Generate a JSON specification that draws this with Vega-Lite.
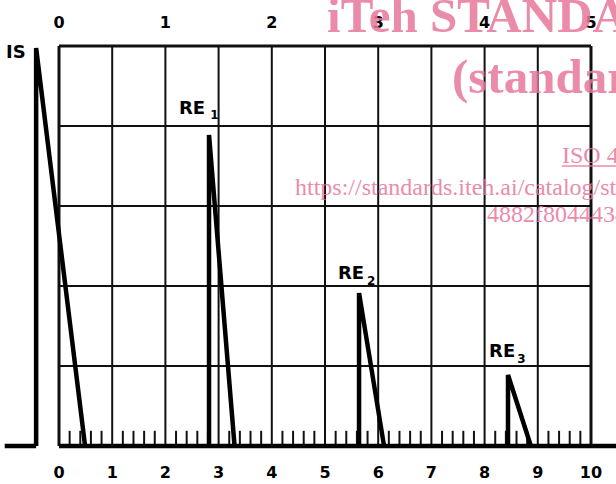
{
  "$schema": "https://vega.github.io/schema/vega-lite/v6.json",
  "width": 616,
  "height": 484,
  "padding": 0,
  "autosize": {"type": "none"},
  "background": "white",
  "config": {"view": {"stroke": null}},
  "datasets": {
    "vgrid": [
      {"x": 1, "y0": 0, "y1": 100}, {"x": 2, "y0": 0, "y1": 100}, {"x": 3, "y0": 0, "y1": 100},
      {"x": 4, "y0": 0, "y1": 100}, {"x": 5, "y0": 0, "y1": 100}, {"x": 6, "y0": 0, "y1": 100},
      {"x": 7, "y0": 0, "y1": 100}, {"x": 8, "y0": 0, "y1": 100}, {"x": 9, "y0": 0, "y1": 100}
    ],
    "vborder": [{"x": 0, "y0": 0, "y1": 100}, {"x": 10, "y0": 0, "y1": 100}],
    "hgrid": [
      {"y": 20, "x0": 0, "x1": 10}, {"y": 40, "x0": 0, "x1": 10},
      {"y": 60, "x0": 0, "x1": 10}, {"y": 80, "x0": 0, "x1": 10}
    ],
    "hborder": [{"y": 100, "x0": 0, "x1": 10}],
    "ticks": [
      {"x": 0.2}, {"x": 0.4}, {"x": 0.6}, {"x": 0.8},
      {"x": 1.2}, {"x": 1.4}, {"x": 1.6}, {"x": 1.8},
      {"x": 2.2}, {"x": 2.4}, {"x": 2.6}, {"x": 2.8},
      {"x": 3.2}, {"x": 3.4}, {"x": 3.6}, {"x": 3.8},
      {"x": 4.2}, {"x": 4.4}, {"x": 4.6}, {"x": 4.8},
      {"x": 5.2}, {"x": 5.4}, {"x": 5.6}, {"x": 5.8},
      {"x": 6.2}, {"x": 6.4}, {"x": 6.6}, {"x": 6.8},
      {"x": 7.2}, {"x": 7.4}, {"x": 7.6}, {"x": 7.8},
      {"x": 8.2}, {"x": 8.4}, {"x": 8.6}, {"x": 8.8},
      {"x": 9.2}, {"x": 9.4}, {"x": 9.6}, {"x": 9.8}
    ],
    "trace": [
      {"pulse": "base0", "order": 1, "x": -1.02, "y": 0},
      {"pulse": "base0", "order": 2, "x": -0.43, "y": 0},
      {"pulse": "base", "order": 1, "x": 0, "y": 0},
      {"pulse": "base", "order": 2, "x": 10.6, "y": 0},
      {"pulse": "IS", "order": 1, "x": -0.43, "y": 0},
      {"pulse": "IS", "order": 2, "x": -0.43, "y": 99.5},
      {"pulse": "IS", "order": 3, "x": 0.49, "y": 0},
      {"pulse": "RE1", "order": 1, "x": 2.82, "y": 0},
      {"pulse": "RE1", "order": 2, "x": 2.82, "y": 77.75},
      {"pulse": "RE1", "order": 3, "x": 3.3, "y": 0},
      {"pulse": "RE2", "order": 1, "x": 5.64, "y": 0},
      {"pulse": "RE2", "order": 2, "x": 5.64, "y": 38.25},
      {"pulse": "RE2", "order": 3, "x": 6.11, "y": 0},
      {"pulse": "RE3", "order": 1, "x": 8.44, "y": 0},
      {"pulse": "RE3", "order": 2, "x": 8.44, "y": 17.75},
      {"pulse": "RE3", "order": 3, "x": 8.87, "y": 0}
    ],
    "toplabels": [
      {"x": 0, "y": 105.75, "t": "0"}, {"x": 2, "y": 105.75, "t": "1"},
      {"x": 4, "y": 105.75, "t": "2"}, {"x": 6, "y": 105.75, "t": "3"},
      {"x": 8, "y": 105.75, "t": "4"}, {"x": 10, "y": 105.75, "t": "5"}
    ],
    "bottomlabels": [
      {"x": 0, "y": -6.75, "t": "0"}, {"x": 1, "y": -6.75, "t": "1"},
      {"x": 2, "y": -6.75, "t": "2"}, {"x": 3, "y": -6.75, "t": "3"},
      {"x": 4, "y": -6.75, "t": "4"}, {"x": 5, "y": -6.75, "t": "5"},
      {"x": 6, "y": -6.75, "t": "6"}, {"x": 7, "y": -6.75, "t": "7"},
      {"x": 8, "y": -6.75, "t": "8"}, {"x": 9, "y": -6.75, "t": "9"},
      {"x": 10, "y": -6.75, "t": "10"}
    ],
    "echolabels": [
      {"x": -0.81, "y": 98.25, "t": "IS"},
      {"x": 2.5, "y": 84.25, "t": "RE"},
      {"x": 5.49, "y": 43, "t": "RE"},
      {"x": 8.33, "y": 23.5, "t": "RE"}
    ],
    "subs": [
      {"x": 2.92, "y": 82.75, "t": "1"},
      {"x": 5.87, "y": 41.25, "t": "2"},
      {"x": 8.69, "y": 21.75, "t": "3"}
    ],
    "wmbig": [
      {"x": 5.038, "y": 103.5, "t": "iTeh STANDARD PREVIEW"},
      {"x": 7.387, "y": 88.25, "t": "(standards.iteh.ai)"}
    ],
    "wmsmall": [
      {"x": 9.455, "y": 70.75, "t": "ISO 4"},
      {"x": 4.436, "y": 62.75, "t": "https://standards.iteh.ai/catalog/standards"},
      {"x": 8.045, "y": 56, "t": "4882f8044434"}
    ],
    "wmline": [{"y": 70, "x0": 9.455, "x1": 10.6}]
  },
  "encoding": {},
  "layer": [
    {
      "data": {"name": "vgrid"},
      "mark": {"type": "rule", "color": "#111", "strokeWidth": 2},
      "encoding": {
        "x": {"field": "x", "type": "quantitative", "scale": {"domain": [-1.109, 10.47], "nice": false, "zero": false}, "axis": null},
        "y": {"field": "y0", "type": "quantitative", "scale": {"domain": [-9.5, 111.5], "nice": false, "zero": false}, "axis": null},
        "y2": {"field": "y1"}
      }
    },
    {
      "data": {"name": "vborder"},
      "mark": {"type": "rule", "color": "#111", "strokeWidth": 3},
      "encoding": {
        "x": {"field": "x", "type": "quantitative"},
        "y": {"field": "y0", "type": "quantitative"},
        "y2": {"field": "y1"}
      }
    },
    {
      "data": {"name": "hgrid"},
      "mark": {"type": "rule", "color": "#111", "strokeWidth": 2},
      "encoding": {
        "y": {"field": "y", "type": "quantitative"},
        "x": {"field": "x0", "type": "quantitative"},
        "x2": {"field": "x1"}
      }
    },
    {
      "data": {"name": "hborder"},
      "mark": {"type": "rule", "color": "#111", "strokeWidth": 3},
      "encoding": {
        "y": {"field": "y", "type": "quantitative"},
        "x": {"field": "x0", "type": "quantitative"},
        "x2": {"field": "x1"}
      }
    },
    {
      "data": {"name": "ticks"},
      "mark": {"type": "rule", "color": "#111", "strokeWidth": 2},
      "encoding": {
        "x": {"field": "x", "type": "quantitative"},
        "y": {"datum": 0, "type": "quantitative"},
        "y2": {"datum": 3.8}
      }
    },
    {
      "data": {"name": "trace"},
      "mark": {"type": "line", "color": "#000", "strokeWidth": 4.5, "strokeJoin": "bevel", "strokeCap": "butt"},
      "encoding": {
        "x": {"field": "x", "type": "quantitative"},
        "y": {"field": "y", "type": "quantitative"},
        "detail": {"field": "pulse"},
        "order": {"field": "order"}
      }
    },
    {
      "data": {"name": "toplabels"},
      "mark": {"type": "text", "font": "DejaVu Sans", "fontWeight": "bold", "fontSize": 16, "color": "#000", "baseline": "middle", "align": "center"},
      "encoding": {
        "x": {"field": "x", "type": "quantitative"},
        "y": {"field": "y", "type": "quantitative"},
        "text": {"field": "t"}
      }
    },
    {
      "data": {"name": "bottomlabels"},
      "mark": {"type": "text", "font": "DejaVu Sans", "fontWeight": "bold", "fontSize": 16, "color": "#000", "baseline": "middle", "align": "center"},
      "encoding": {
        "x": {"field": "x", "type": "quantitative"},
        "y": {"field": "y", "type": "quantitative"},
        "text": {"field": "t"}
      }
    },
    {
      "data": {"name": "echolabels"},
      "mark": {"type": "text", "font": "DejaVu Sans", "fontWeight": "bold", "fontSize": 18, "color": "#000", "baseline": "middle", "align": "center"},
      "encoding": {
        "x": {"field": "x", "type": "quantitative"},
        "y": {"field": "y", "type": "quantitative"},
        "text": {"field": "t"}
      }
    },
    {
      "data": {"name": "subs"},
      "mark": {"type": "text", "font": "DejaVu Sans", "fontWeight": "bold", "fontSize": 12, "color": "#000", "baseline": "middle", "align": "center"},
      "encoding": {
        "x": {"field": "x", "type": "quantitative"},
        "y": {"field": "y", "type": "quantitative"},
        "text": {"field": "t"}
      }
    },
    {
      "data": {"name": "wmbig"},
      "mark": {"type": "text", "font": "Liberation Serif", "fontWeight": "bold", "fontSize": 49, "color": "#E8779C", "opacity": 0.85, "baseline": "alphabetic", "align": "left"},
      "encoding": {
        "x": {"field": "x", "type": "quantitative"},
        "y": {"field": "y", "type": "quantitative"},
        "text": {"field": "t"}
      }
    },
    {
      "data": {"name": "wmsmall"},
      "mark": {"type": "text", "font": "Liberation Serif", "fontSize": 24, "color": "#E8779C", "opacity": 0.85, "baseline": "alphabetic", "align": "left"},
      "encoding": {
        "x": {"field": "x", "type": "quantitative"},
        "y": {"field": "y", "type": "quantitative"},
        "text": {"field": "t"}
      }
    },
    {
      "data": {"name": "wmline"},
      "mark": {"type": "rule", "color": "#E8779C", "opacity": 0.85, "strokeWidth": 1.5},
      "encoding": {
        "y": {"field": "y", "type": "quantitative"},
        "x": {"field": "x0", "type": "quantitative"},
        "x2": {"field": "x1"}
      }
    }
  ]
}
